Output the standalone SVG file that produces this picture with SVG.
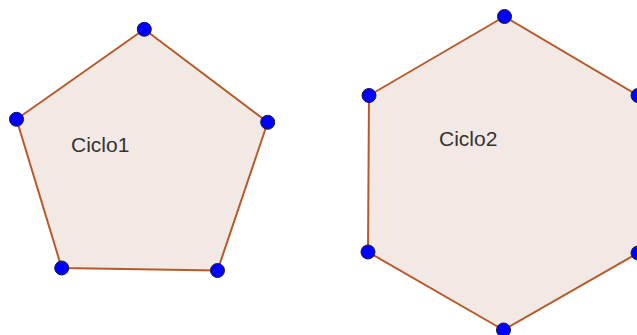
<svg xmlns="http://www.w3.org/2000/svg" width="637" height="335" viewBox="0 0 637 335">
<style>
.poly{fill:#f3e9e4;stroke:#b65a2c;stroke-width:2;stroke-linejoin:round}
.pt{fill:#0000ff;stroke:#1a1a3a;stroke-width:1}
.lbl{font-family:"Liberation Sans",Arial,sans-serif;font-size:21px;fill:#333}
</style>
<rect width="637" height="335" fill="#fff"/>
<g id="ciclo1">
<polygon class="poly" points="144.3,29.3 267.7,122.3 217.5,270.5 61.7,268 16.5,119.3"/>
<circle class="pt" cx="144.3" cy="29.3" r="7"/>
<circle class="pt" cx="267.7" cy="122.3" r="7"/>
<circle class="pt" cx="217.5" cy="270.5" r="7"/>
<circle class="pt" cx="61.7" cy="268" r="7"/>
<circle class="pt" cx="16.5" cy="119.3" r="7"/>
<text class="lbl" x="71" y="152">Ciclo1</text>
</g>
<g id="ciclo2">
<polygon class="poly" points="504.5,16.5 638,95.5 638,253 503.5,330 368,252 369,95.5"/>
<circle class="pt" cx="504.5" cy="16.5" r="7"/>
<circle class="pt" cx="638" cy="95.5" r="7"/>
<circle class="pt" cx="638" cy="253" r="7"/>
<circle class="pt" cx="503.5" cy="330" r="7"/>
<circle class="pt" cx="368" cy="252" r="7"/>
<circle class="pt" cx="369" cy="95.5" r="7"/>
<text class="lbl" x="439" y="145.5">Ciclo2</text>
</g>
<g id="connectors"></g>
</svg>
